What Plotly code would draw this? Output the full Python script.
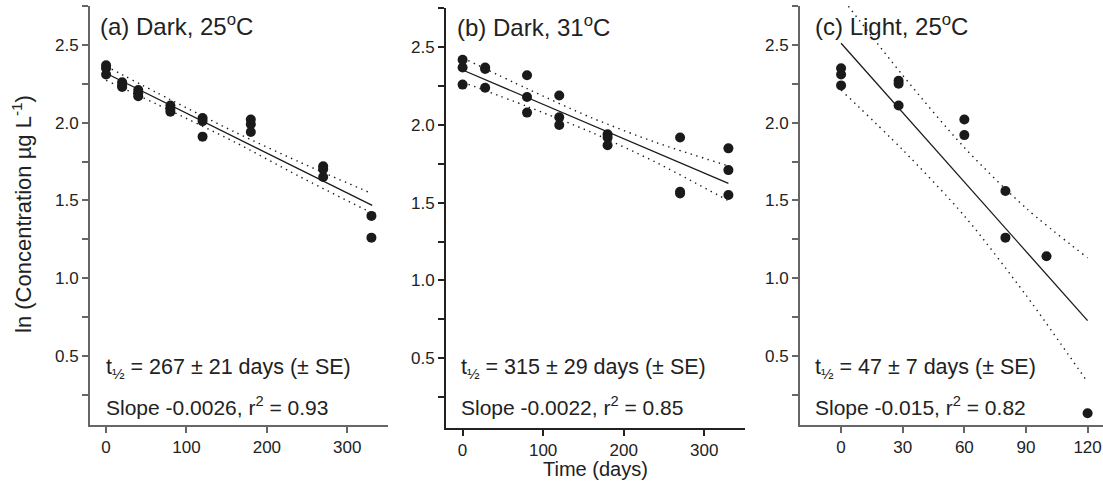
import plotly.graph_objects as go

# ---------------- data ----------------
a_days = [0, 0, 0, 20, 20, 20, 40, 40, 40, 80, 80, 80, 120, 120, 120,
          180, 180, 180, 270, 270, 270, 330, 330]
a_vals = [2.37, 2.35, 2.31, 2.26, 2.24, 2.23, 2.21, 2.19, 2.17, 2.11, 2.09, 2.07,
          2.03, 2.01, 1.91, 2.02, 1.99, 1.94, 1.72, 1.70, 1.65, 1.40, 1.26]

b_days = [0, 0, 0, 28, 28, 28, 80, 80, 80, 120, 120, 120, 180, 180, 180,
          270, 270, 270, 330, 330, 330]
b_vals = [2.42, 2.37, 2.26, 2.37, 2.36, 2.24, 2.32, 2.18, 2.08, 2.19, 2.05, 2.00,
          1.94, 1.92, 1.87, 1.92, 1.57, 1.56, 1.85, 1.71, 1.55]

c_days = [0, 0, 0, 28, 28, 28, 60, 60, 80, 80, 100, 120]
c_vals = [2.35, 2.31, 2.24, 2.27, 2.25, 2.11, 2.02, 1.92, 1.56, 1.26, 1.14, 0.13]

# fitted regression lines (intercept, slope, x-extent)
fit_intercepts = [2.318, 2.354, 2.511]
fit_slopes = [-0.00257, -0.00221, -0.01488]
fit_x_ends = [331, 330, 120]

# confidence bands
a_band_x = [0, 80, 160, 240, 330]
a_upper = [2.363, 2.148, 1.940, 1.748, 1.545]
a_lower = [2.273, 2.077, 1.875, 1.655, 1.420]
b_band_x = [0, 80, 160, 240, 330]
b_upper = [2.432, 2.234, 2.047, 1.888, 1.737]
b_lower = [2.276, 2.120, 1.953, 1.760, 1.513]
c_band_x = [0, 30, 60, 90, 120]
c_upper = [2.81, 2.305, 1.84, 1.45, 1.13]
c_lower = [2.21, 1.825, 1.40, 0.89, 0.33]

titles = ["(a) Dark, 25<sup>o</sup>C", "(b) Dark, 31<sup>o</sup>C", "(c) Light, 25<sup>o</sup>C"]
half_lives = ["t<sub>½</sub> = 267 ± 21 days (± SE)",
              "t<sub>½</sub> = 315 ± 29 days (± SE)",
              "t<sub>½</sub> = 47 ± 7 days (± SE)"]
slopes_txt = ["Slope -0.0026, r<sup>2</sup> = 0.93",
              "Slope -0.0022, r<sup>2</sup> = 0.85",
              "Slope -0.015, r<sup>2</sup> = 0.82"]
x_ticks = [[0, 100, 200, 300], [0, 100, 200, 300], [0, 30, 60, 90, 120]]
y_ticks = [0.5, 1.0, 1.5, 2.0, 2.5]
y_ticktext = ["0.5", "1.0", "1.5", "2.0", "2.5"]
y_title = "ln (Concentration µg L<sup>-1</sup>)"
x_title = "Time (days)"

# ---------------- layout geometry ----------------
W, H = 1103, 483
FONT = "Liberation Sans, Arial, sans-serif"
INK = "#1a1a1a"

def px(x, y):
    return x / W, 1 - y / H

x_domains = [[90 / W, 388.3 / W], [446 / W, 745 / W], [800 / W, 1.0]]
y_domains = [[1 - 425 / H, 1 - 6 / H], [1 - 427.5 / H, 1 - 8.3 / H], [1 - 425 / H, 1 - 6 / H]]
x_ranges = [[-20, 351], [-20.6, 350.6], [-20, 127.5]]
y_range = [0.054, 2.751]
axis_colors = ["#666666", "#222222", "#666666"]

fig = go.Figure()

panels = [
    (a_days, a_vals, a_band_x, a_upper, a_lower),
    (b_days, b_vals, b_band_x, b_upper, b_lower),
    (c_days, c_vals, c_band_x, c_upper, c_lower),
]

for i, (dx, dy, bx, bu, bl) in enumerate(panels):
    xa = "x" if i == 0 else f"x{i+1}"
    ya = "y" if i == 0 else f"y{i+1}"
    for band in (bu, bl):
        fig.add_trace(go.Scatter(x=bx, y=band, mode="lines", xaxis=xa, yaxis=ya,
                                 line=dict(color=INK, width=1.4, dash="1.4px,4.5px", shape="spline", smoothing=0.8),
                                 hoverinfo="skip", showlegend=False))
    fx = [0, fit_x_ends[i]]
    fy = [fit_intercepts[i] + fit_slopes[i] * v for v in fx]
    fig.add_trace(go.Scatter(x=fx, y=fy, mode="lines", xaxis=xa, yaxis=ya,
                             line=dict(color=INK, width=1.3), showlegend=False))
    fig.add_trace(go.Scatter(x=dx, y=dy, mode="markers", xaxis=xa, yaxis=ya,
                             marker=dict(color=INK, size=10), showlegend=False))

    ax_common = dict(showgrid=False, zeroline=False, showline=True, linewidth=2,
                     linecolor=axis_colors[i], ticks="outside", ticklen=6, tickwidth=1.5,
                     tickcolor=axis_colors[i], tickfont=dict(family=FONT, size=17, color="#222"))
    fig.layout[f"xaxis{'' if i == 0 else i+1}"] = dict(
        domain=x_domains[i], range=x_ranges[i], anchor=ya, tickvals=x_ticks[i],
        ticktext=[str(t) for t in x_ticks[i]], **ax_common)
    fig.layout[f"yaxis{'' if i == 0 else i+1}"] = dict(
        domain=y_domains[i], range=y_range, anchor=xa, tickvals=y_ticks,
        ticktext=y_ticktext,
        minor=dict(dtick=0.25, tick0=0, ticks="outside", ticklen=6, tickwidth=1.5,
                   tickcolor=axis_colors[i], showgrid=False),
        **ax_common)

annotations = []
title_pos = [(98, 25), (455, 26), (813, 25)]
ann_x = [104, 459, 813]
for i in range(3):
    x, y = px(*title_pos[i])
    annotations.append(dict(x=x, y=y, xref="paper", yref="paper", text=titles[i],
                            showarrow=False, xanchor="left", yanchor="middle",
                            font=dict(family=FONT, size=24, color="#222")))
    x, y = px(ann_x[i], 368)
    annotations.append(dict(x=x, y=y, xref="paper", yref="paper", text=half_lives[i],
                            showarrow=False, xanchor="left", yanchor="middle",
                            font=dict(family=FONT, size=21.5, color="#222")))
    x, y = px(ann_x[i], 406)
    annotations.append(dict(x=x, y=y, xref="paper", yref="paper", text=slopes_txt[i],
                            showarrow=False, xanchor="left", yanchor="middle",
                            font=dict(family=FONT, size=21, color="#222")))

x, y = px(22, 214)
annotations.append(dict(x=x, y=y, xref="paper", yref="paper", text=y_title, textangle=-90,
                        showarrow=False, xanchor="center", yanchor="middle",
                        font=dict(family=FONT, size=22, color="#222")))
x, y = px(595.5, 469)
annotations.append(dict(x=x, y=y, xref="paper", yref="paper", text=x_title,
                        showarrow=False, xanchor="center", yanchor="middle",
                        font=dict(family=FONT, size=20, color="#222")))

fig.update_layout(width=W, height=H, margin=dict(l=0, r=0, t=0, b=0),
                  paper_bgcolor="white", plot_bgcolor="white",
                  annotations=annotations, showlegend=False,
                  font=dict(family=FONT, color="#222"))

fig.write_html("out.html", config={"displayModeBar": False},
               post_script="document.body.style.margin='0';document.body.style.overflow='hidden';")
